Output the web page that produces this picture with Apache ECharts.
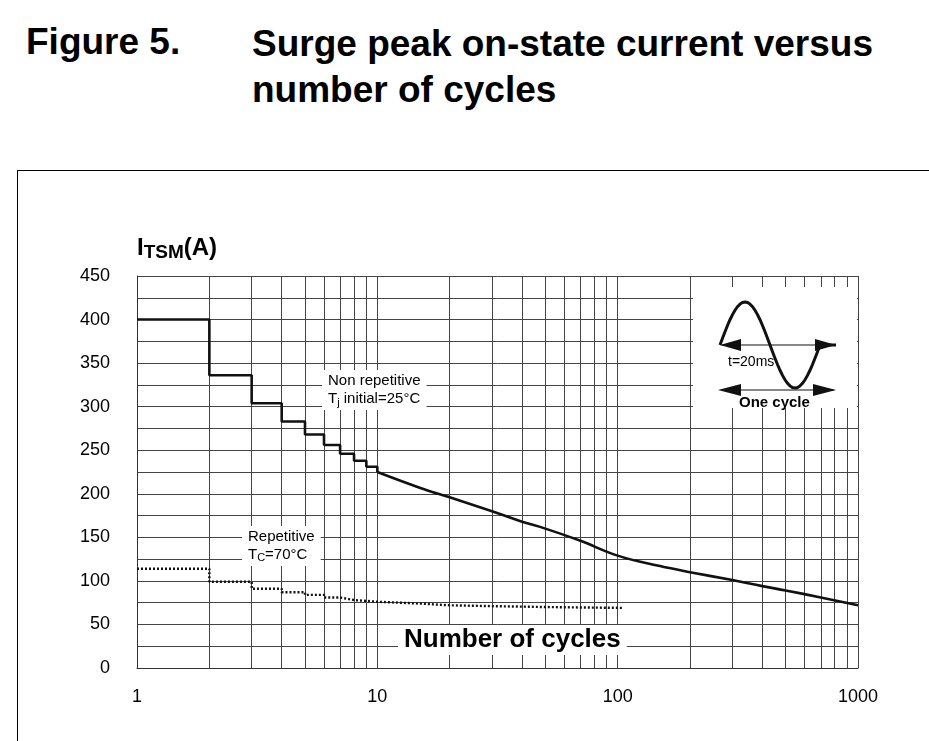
<!DOCTYPE html>
<html>
<head>
<meta charset="utf-8">
<script src="https://cdn.jsdelivr.net/npm/echarts@6/dist/echarts.min.js"></script>
<style>
html,body{margin:0;padding:0;background:#fff;}
#title{position:absolute;left:0;top:0;width:929px;height:130px;font-family:Arial,"Liberation Sans",sans-serif;font-weight:bold;font-size:37px;color:#000;}
#box{position:absolute;left:17px;top:170px;width:940px;height:600px;border:1.5px solid #000;}
#chart{position:absolute;left:0;top:0;width:929px;height:741px;}
</style>
</head>
<body>
<div id="title">
  <div style="position:absolute;left:26px;top:21px;">Figure 5.</div>
  <div style="position:absolute;left:252px;top:21px;line-height:46px;">Surge peak on-state current versus<br>number of cycles</div>
</div>
<div id="box"></div>
<div id="chart"></div>
<script>
// non repetitive, Tj initial = 25°C : stepped part
var stepX = [1, 2, 2, 3, 3, 4, 4, 5, 5, 6, 6, 7, 7, 8, 8, 9, 9, 10, 10];
var stepY = [400, 400, 336, 336, 304, 304, 283, 283, 268, 268, 256, 256, 246, 246, 238, 238, 231, 231, 225];
// non repetitive : smooth part
var curveX = [10, 15, 20, 30, 40, 50, 70, 100, 150, 200, 300, 400, 500, 700, 1000];
var curveY = [225, 207, 196, 180, 168, 160, 146, 129, 117, 110, 101, 94, 89, 81, 72];
// repetitive, Tc = 70°C
var repX = [1, 2, 2, 3, 3, 4, 4, 5, 5, 6, 6, 7, 7, 8, 9, 10, 15, 20, 30, 50, 70, 105];
var repY = [114, 114, 99, 99, 91, 91, 87, 87, 84, 84, 81, 81, 79, 78, 77, 76, 74, 72, 71, 70, 69.5, 69];
var yTicks = [0, 50, 100, 150, 200, 250, 300, 350, 400, 450];
var xLabels = [1, 10, 100, 1000];

var minorX = [];
[1, 10, 100].forEach(function (d) {
  for (var k = 2; k <= 9; k++) minorX.push(d * k);
});

var chart = echarts.init(document.getElementById('chart'));
var font = 'Arial, "Liberation Sans", sans-serif';

function pairs(xs, ys) { return xs.map(function (x, i) { return [x, ys[i]]; }); }

chart.setOption({
  animation: false,
  grid: { left: 137, right: 71, top: 276, bottom: 73 },
  xAxis: {
    type: 'log', logBase: 10, min: 1, max: 1000,
    axisLine: { lineStyle: { color: '#333', width: 1 } },
    axisTick: { show: false },
    axisLabel: {
      color: '#000', fontSize: 18, fontFamily: font, margin: 20,
      formatter: function (v) { return xLabels.indexOf(Math.round(v)) >= 0 ? String(Math.round(v)) : ''; }
    },
    splitLine: { show: true, lineStyle: { color: '#444', width: 1 } }
  },
  yAxis: {
    type: 'value', min: 0, max: 450, interval: 25,
    axisLine: { show: true, lineStyle: { color: '#333', width: 1 } },
    axisTick: { show: false },
    axisLabel: {
      color: '#000', fontSize: 18, fontFamily: font, margin: 27,
      formatter: function (v) { return yTicks.indexOf(v) >= 0 ? String(v) : ''; }
    },
    splitLine: { show: true, lineStyle: { color: '#444', width: 1 } },
    name: '{a|I}{b|TSM}{a|(A)}', nameLocation: 'end', nameGap: 14,
    nameTextStyle: {
      align: 'left', padding: [0, 0, 0, 0],
      rich: {
        a: { fontSize: 24, fontWeight: 'bold', fontFamily: font, color: '#000' },
        b: { fontSize: 19, fontWeight: 'bold', fontFamily: font, color: '#000', padding: [8, 0, 0, 0] }
      }
    }
  },
  series: [
    {
      type: 'line', data: [], silent: true,
      markLine: {
        symbol: 'none', silent: true, label: { show: false },
        lineStyle: { color: '#444', width: 1, type: 'solid' },
        data: minorX.map(function (x) { return { xAxis: x }; })
      }
    },
    {
      name: 'Non repetitive', type: 'line', data: pairs(stepX, stepY),
      showSymbol: false, z: 5, lineStyle: { color: '#111', width: 2.6 }
    },
    {
      name: 'Non repetitive curve', type: 'line', data: pairs(curveX, curveY),
      showSymbol: false, smooth: 0.4, z: 5, lineStyle: { color: '#111', width: 2.6 }
    },
    {
      name: 'Repetitive', type: 'line', data: pairs(repX, repY),
      showSymbol: false, z: 5,
      lineStyle: { color: '#111', width: 2.4, type: [2, 2] }
    }
  ],
  graphic: [
    { type: 'text', left: 322, top: 370, z: 10,
      style: { text: 'Non repetitive\n{t|T}{s|j} initial=25°C', fill: '#000', font: '15px ' + font, lineHeight: 18,
        backgroundColor: '#fff', padding: [2, 6, 2, 6], align: 'center',
        rich: { t: { fontSize: 15, fontFamily: font }, s: { fontSize: 11, fontFamily: font, padding: [8, 0, 0, 0] } } } },
    { type: 'text', left: 242, top: 526, z: 10,
      style: { text: 'Repetitive\n{t|T}{s|C}=70°C', fill: '#000', font: '15px ' + font, lineHeight: 18,
        backgroundColor: '#fff', padding: [2, 6, 2, 6],
        rich: { t: { fontSize: 15, fontFamily: font }, s: { fontSize: 11, fontFamily: font, padding: [6, 0, 0, 0] } } } },
    { type: 'text', left: 398, top: 625, z: 10,
      style: { text: 'Number of cycles', fill: '#000', font: 'bold 26px ' + font, backgroundColor: '#fff', padding: [2, 6, 2, 6] } },
    // inset: one cycle of sine
    { type: 'rect', shape: { x: 693, y: 287, width: 164, height: 121 }, z: 10, style: { fill: '#fff' } },
    { type: 'polyline', z: 11,
      shape: { points: (function () {
        var p = [];
        for (var i = 0; i <= 40; i++) {
          var t = i / 40;
          p.push([720 + t * 100, 345 - 43 * Math.sin(t * 2 * Math.PI)]);
        }
        p.push([836, 345]);
        return p;
      })() },
      style: { stroke: '#111', lineWidth: 3, fill: null } },
    { type: 'line', z: 11, shape: { x1: 722, y1: 345, x2: 834, y2: 345 }, style: { stroke: '#111', lineWidth: 1.2 } },
    { type: 'polygon', z: 11, shape: { points: [[720, 345], [741, 339], [741, 351]] }, style: { fill: '#111' } },
    { type: 'polygon', z: 11, shape: { points: [[836, 345], [815, 339], [815, 351]] }, style: { fill: '#111' } },
    { type: 'text', z: 12, left: 728, top: 355, style: { text: 't=20ms', fill: '#000', font: '14px ' + font } },
    { type: 'line', z: 11, shape: { x1: 722, y1: 390, x2: 834, y2: 390 }, style: { stroke: '#111', lineWidth: 1.2 } },
    { type: 'polygon', z: 11, shape: { points: [[718, 390], [741, 384], [741, 396]] }, style: { fill: '#111' } },
    { type: 'polygon', z: 11, shape: { points: [[836, 390], [813, 384], [813, 396]] }, style: { fill: '#111' } },
    { type: 'text', z: 12, left: 739, top: 395, style: { text: 'One cycle', fill: '#000', font: 'bold 15px ' + font } }
  ]
});
</script>
</body>
</html>
